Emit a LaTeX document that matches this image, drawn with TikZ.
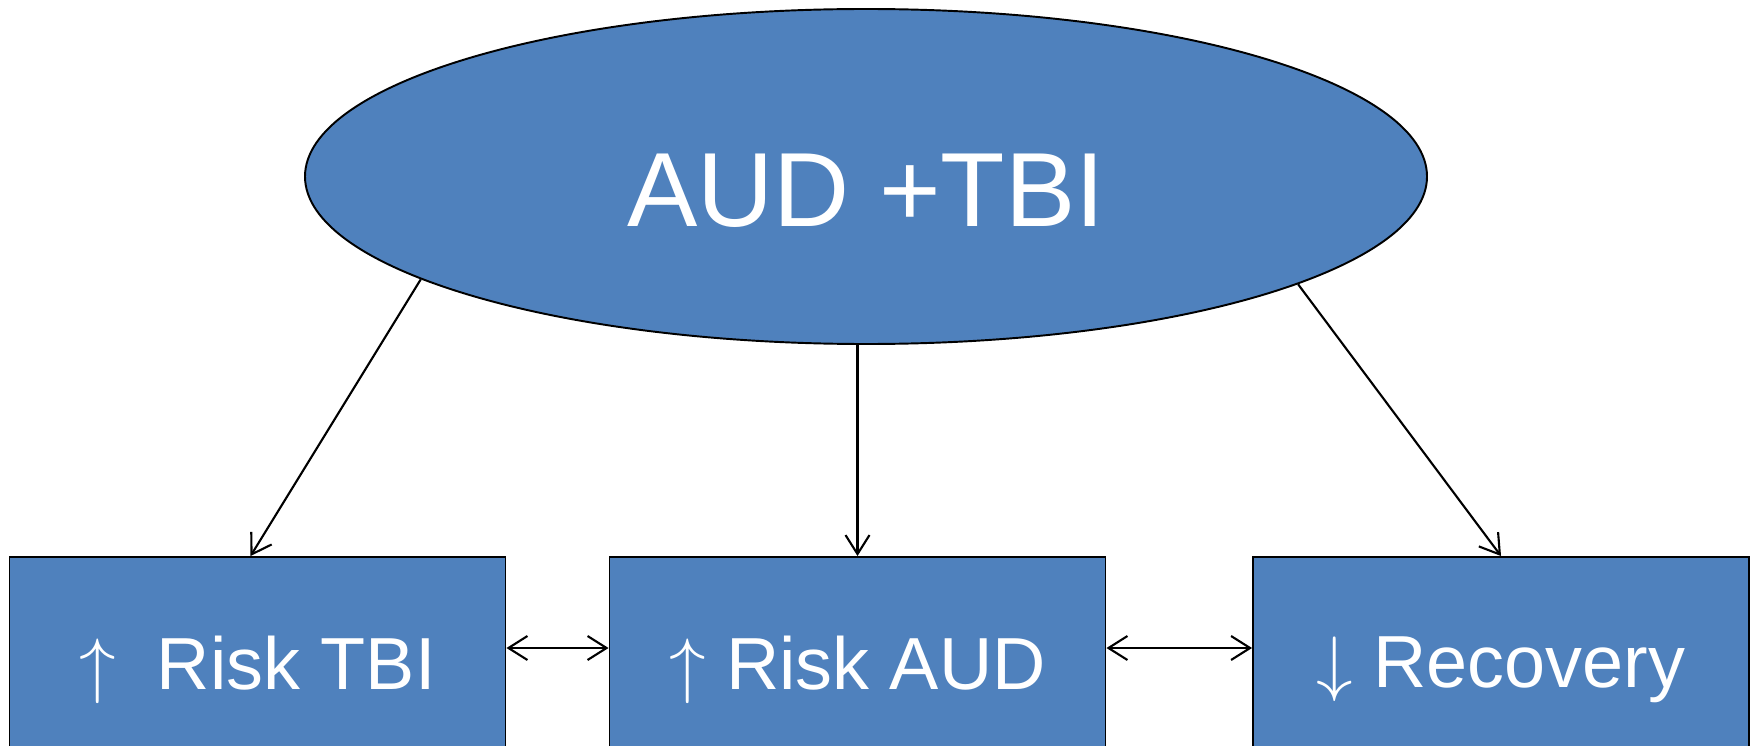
\documentclass[tikz,border=0pt]{standalone}
\usepackage{fontspec}
\setmainfont{Liberation Sans}
\usetikzlibrary{shapes.geometric, arrows.meta}

\tikzset{
  blueshape/.style={fill=boxblue, draw=black, line width=0.55pt, text=white, inner sep=0pt},
  hubnode/.style={blueshape, ellipse, minimum width=11.22cm, minimum height=3.35cm},
  riskbox/.style={blueshape, rectangle, minimum width=4.96cm, minimum height=2.26cm, font=\fontsize{21}{25}\selectfont},
  link/.style={line width=0.6pt, -{Straight Barb[length=0.19cm, width=0.24cm]}},
  duallink/.style={line width=0.6pt, {Straight Barb[length=0.19cm, width=0.24cm]}-{Straight Barb[length=0.19cm, width=0.24cm]}}
}
\definecolor{boxblue}{HTML}{4F81BD}

\begin{document}
\begin{tikzpicture}
        \useasboundingbox (0,0) rectangle (17.53,-7.45);
        % Top ellipse
        \node[hubnode, label={[text=white, font=\fontsize{30}{36}\selectfont, yshift=-0.14cm]center:AUD +TBI}] (hub) at (8.66,-1.765) {};
        % Bottom row of boxes (cut by the lower edge)
        \node[riskbox] (tbi) at (2.575,-6.7) {$\uparrow$\ \ Risk TBI};
        \node[riskbox] (aud) at (8.575,-6.7) {$\uparrow$ Risk AUD};
        \node[riskbox] (rec) at (15.01,-6.7) {$\downarrow$ Recovery};
        % Arrows from the ellipse down to the boxes
        \draw[link] (hub.193.7) -- ([xshift=-0.07cm]tbi.north);
        \draw[link] (hub.south -| aud.north) -- (aud.north);
        \draw[link] (hub.346.2) -- (rec.north);
        % Two-way arrows between the boxes
        \draw[duallink] ([yshift=0.22cm]tbi.east) -- ([yshift=0.22cm]aud.west);
        \draw[duallink] ([yshift=0.22cm]aud.east) -- ([yshift=0.22cm]rec.west);
      \end{tikzpicture}
\end{document}
